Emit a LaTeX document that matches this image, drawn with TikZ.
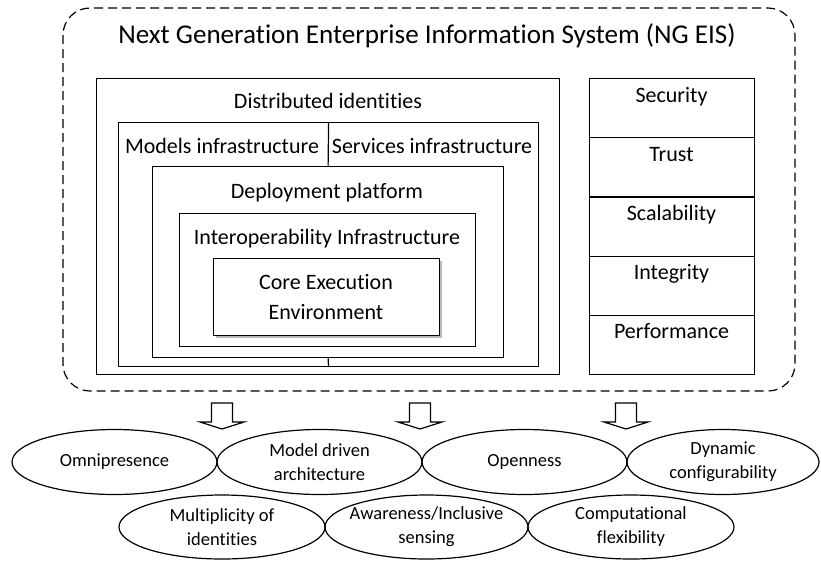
\documentclass[tikz,border=0pt]{standalone}
\usepackage{fontspec}
\setmainfont{Carlito}[Ligatures=NoCommon]
\usetikzlibrary{shapes.geometric}
\begin{document}
\begin{tikzpicture}[x=1pt,y=-1pt,
  box/.style={draw, line width=1.2pt, fill=white, inner sep=0pt, anchor=north west},
  lbl/.style={anchor=base, inner sep=0pt, font=\fontsize{22}{30}\selectfont, align=center},
  ttl/.style={anchor=base, inner sep=0pt, font=\fontsize{27.1}{32}\selectfont},
  ell/.style={draw, ellipse, line width=1.2pt, inner sep=0pt, minimum height=65pt},
  etext/.style={inner sep=0pt, font=\fontsize{18.5}{24}\selectfont, align=center},
  barrow/.pic={\draw[line width=1.2pt, line join=miter, fill=white]
     (-10.5,0) -- (10.5,0) -- (10.5,19) -- (22,19) -- (0,26) -- (-22,19) -- (-10.5,19) -- cycle;}
]
\useasboundingbox (0,0) rectangle (821,560);
% outer dashed frame
\draw[line width=1.2pt, dash pattern=on 9pt off 5pt, rounded corners=27pt] (63,8) rectangle (795,391);
\node[ttl] (title) at (427,43) {Next Generation Enterprise Information System (NG EIS)};

% nested boxes
\node[box, minimum width=463pt, minimum height=296pt] (di) at (96,78) {};
\node[box, minimum width=420pt, minimum height=244pt] (mi) at (118,122) {};
\node[box, minimum width=351pt, minimum height=191pt] (dp) at (152,166) {};
\node[box, minimum width=296pt, minimum height=133pt] (ii) at (179,213) {};
\fill[gray!55] (216,261) rectangle (442,338);
\node[box, minimum width=226pt, minimum height=77pt] (ce) at (213,258) {};
\draw[line width=1.2pt] (mi.north) -- (dp.north);
\draw[line width=1.2pt] (dp.south) -- (mi.south);

\node[lbl] (ldi) at (328,108) {Distributed identities};
\node[lbl] (lmi) at (222,153) {Models infrastructure};
\node[lbl] (lsi) at (432,153) {Services infrastructure};
\node[lbl] (ldp) at (327,198) {Deployment platform};
\node[lbl] (lii) at (327,244) {Interoperability Infrastructure};
\node[lbl] (lce1) at (326,289) {Core Execution};
\node[lbl] (lce2) at (326,319) {Environment};

% right column
\node[box, minimum width=165pt, minimum height=59.2pt] (r1) at (589,78) {};
\node[box, minimum width=165pt, minimum height=59.2pt] (r2) at (589,137.2) {};
\node[box, minimum width=165pt, minimum height=59.2pt] (r3) at (589,196.4) {};
\node[box, minimum width=165pt, minimum height=59.2pt] (r4) at (589,255.6) {};
\node[box, minimum width=165pt, minimum height=59.2pt] (r5) at (589,314.8) {};
\node[lbl] (lr1) at (671.5,102) {Security};
\node[lbl] (lr2) at (671.5,161) {Trust};
\node[lbl] (lr3) at (671.5,220) {Scalability};
\node[lbl] (lr4) at (671.5,279) {Integrity};
\node[lbl] (lr5) at (671.5,338) {Performance};

% block arrows
\pic at (222,403) {barrow};
\pic at (420,403) {barrow};
\pic at (626,403) {barrow};

% ellipses
\node[ell, minimum width=205pt] (e1) at (114.5,462) {};
\node[ell, minimum width=205pt] (e2) at (319.5,462) {};
\node[ell, minimum width=205pt] (e3) at (524.5,462) {};
\node[ell, minimum width=192pt] (e4) at (723,462) {};
\node[ell, minimum width=206pt, minimum height=64pt] (e5) at (222,527) {};
\node[ell, minimum width=203pt, minimum height=64pt] (e6) at (426.5,527) {};
\node[ell, minimum width=206pt, minimum height=64pt] (e7) at (631,527) {};
\node[etext] (t1) at (e1) {Omnipresence};
\node[etext] (t2) at (e2) {Model driven\\architecture};
\node[etext] (t3) at (e3) {Openness};
\node[etext] (t4) at (e4) {Dynamic\\configurability};
\node[etext] (t5) at (e5) {Multiplicity of\\identities};
\node[etext] (t6) at (e6) {Awareness/Inclusive\\sensing};
\node[etext] (t7) at (e7) {Computational\\flexibility};
\end{tikzpicture}
\end{document}
